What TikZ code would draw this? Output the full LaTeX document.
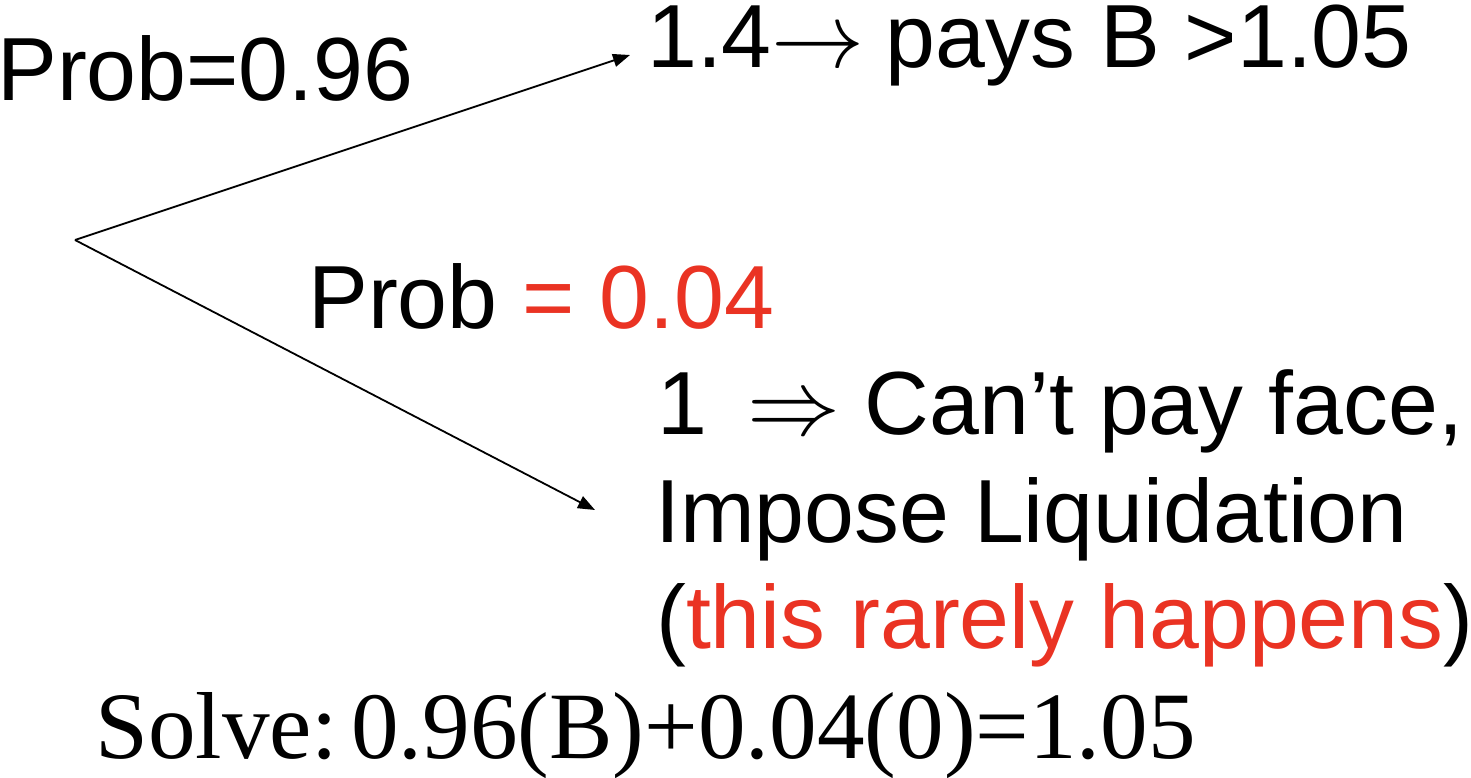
\documentclass[tikz,border=0pt]{standalone}
\usepackage{fontspec}
\setmainfont{Liberation Sans}
\newfontfamily\solvefont{Liberation Serif}
\font\arrowsym=cmsy10 at 93bp
\usetikzlibrary{arrows.meta}
\definecolor{hlred}{RGB}{234,51,35}
\newcommand{\bigarr}[1]{{\arrowsym\char#1}}

\begin{document}
\begin{tikzpicture}[x=1bp,y=-1bp,font=\fontsize{90}{105}\selectfont,
    lbl/.style={anchor=base west,inner sep=0pt},
    branch/.style={line width=1.8bp,-{Triangle[length=17bp,width=13bp]}}]
  \useasboundingbox (0,0) rectangle (1471,777);
  % tree root and the two free arrow ends
  \coordinate (root) at (75,240);
  \coordinate (hiend) at (630,55);
  \coordinate (loend) at (595,510);
  % upper branch
  \node[lbl] (phigh) at (-3,100) {Prob=0.96};
  \node[lbl] (payoff) at (647,68) {1.4\bigarr{"21}\hspace{21bp}pays B >1.05};
  % lower branch
  \node[lbl] (plow) at (308,328) {Prob \textcolor{hlred}{= 0.04}};
  \node[lbl] (fail) at (657,434) {1\hspace{40bp}\bigarr{"29} Can’t pay face,};
  \node[lbl] (liq) at (655,542) {Impose Liquidation};
  \node[lbl] (rare) at (656,648) {(\textcolor{hlred}{this rarely happens})};
  \node[lbl,font=\solvefont\fontsize{95.5}{100}\selectfont] (solve) at (95,758)
    {Solve:\hspace{13bp}0.96(B)+0.04(0)=1.05};
  \draw[branch] (root) -- (hiend);
  \draw[branch] (root) -- (loend);
\end{tikzpicture}
\end{document}
